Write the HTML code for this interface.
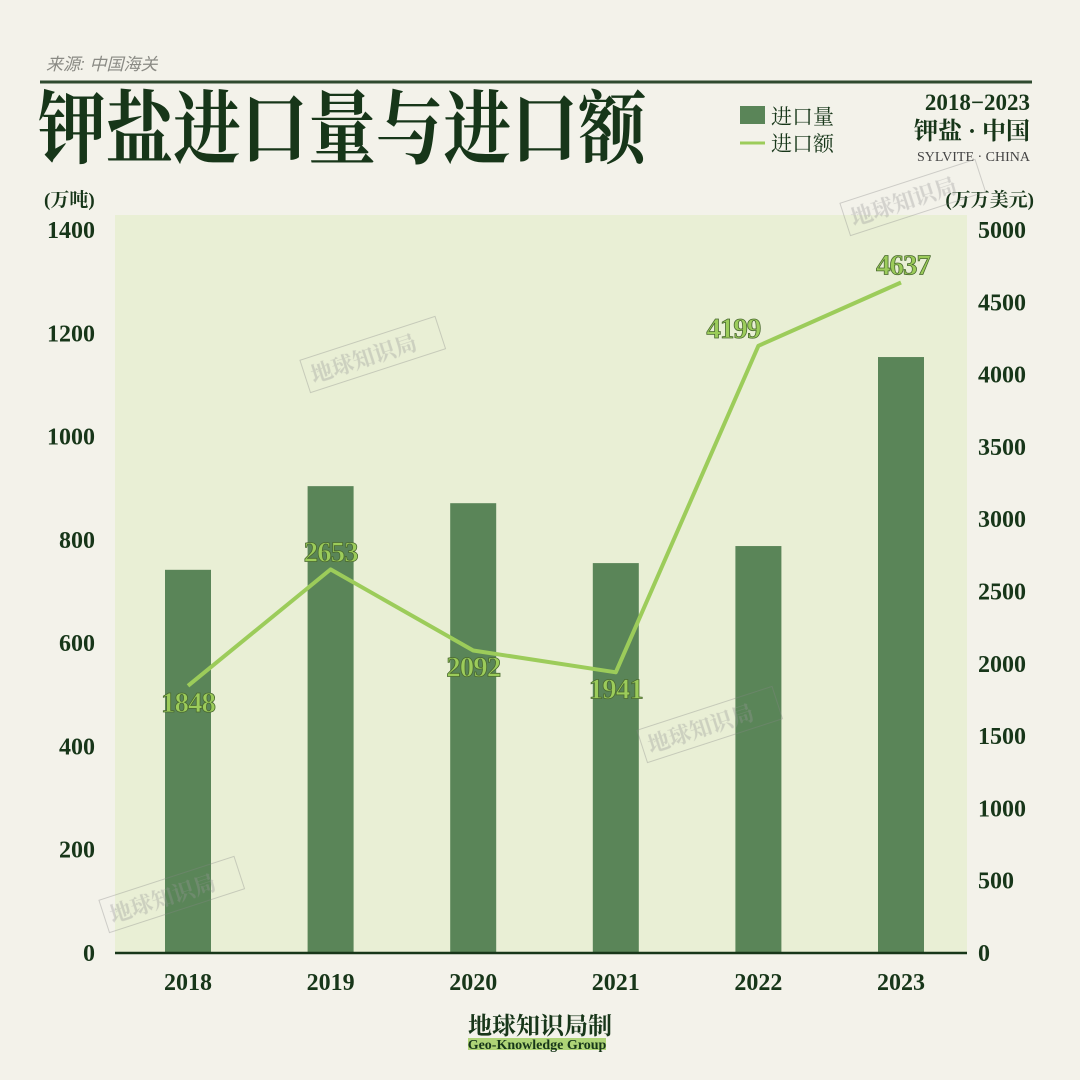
<!DOCTYPE html>
<html><head><meta charset="utf-8">
<style>
html,body{margin:0;padding:0;width:1080px;height:1080px;background:#f3f2ea;overflow:hidden}
svg{display:block}
.serif{font-family:"Liberation Serif","Noto Serif CJK SC",serif}
</style></head>
<body>
<svg id="chart" width="1080" height="1080" viewBox="0 0 1080 1080" xmlns="http://www.w3.org/2000/svg">
<rect x="0" y="0" width="1080" height="1080" fill="#f3f2ea"/>
<text x="46" y="70" font-family="Liberation Sans,'Noto Sans CJK SC',sans-serif" font-size="17" font-style="italic" fill="#8a8a84">来源:  中国海关</text>
<line x1="40" y1="82" x2="1032" y2="82" stroke="#2f4a2f" stroke-width="3"/>
<text x="38" y="157" class="serif" font-size="80" font-weight="bold" fill="#173619" textLength="608" lengthAdjust="spacingAndGlyphs">钾盐进口量与进口额</text>
<rect x="740" y="106" width="25" height="18" fill="#5a8558"/>
<text x="771" y="124" class="serif" font-size="21" fill="#173619">进口量</text>
<line x1="740" y1="143" x2="765" y2="143" stroke="#9ccc5a" stroke-width="3"/>
<text x="771" y="151" class="serif" font-size="21" fill="#173619">进口额</text>
<text x="1030" y="110" text-anchor="end" class="serif" font-size="23" font-weight="bold" fill="#173619">2018−2023</text>
<text x="1030" y="139" text-anchor="end" class="serif" font-size="24" font-weight="bold" fill="#173619">钾盐 · 中国</text>
<text x="1030" y="161" text-anchor="end" class="serif" font-size="14" fill="#444">SYLVITE · CHINA</text>
<text x="44" y="206" class="serif" font-size="19" font-weight="bold" fill="#173619">(万吨)</text>
<text x="1034" y="206" text-anchor="end" class="serif" font-size="19" font-weight="bold" fill="#173619">(万万美元)</text>
<rect x="115" y="215" width="852" height="738" fill="#e9efd5"/>
<g id="bars"></g>
<g id="axes"></g>
<g id="line"></g>
<g opacity="0.35" class="serif" font-size="22" font-weight="bold" fill="none" stroke="#888" stroke-width="1">
<g transform="translate(308,385) rotate(-18)"><rect x="0" y="-26" width="142" height="34"/><text x="6" y="0" fill="#999" stroke="none">地球知识局</text></g>
<g transform="translate(107,925) rotate(-18)"><rect x="0" y="-26" width="142" height="34"/><text x="6" y="0" fill="#999" stroke="none">地球知识局</text></g>
<g transform="translate(645,755) rotate(-18)"><rect x="0" y="-26" width="142" height="34"/><text x="6" y="0" fill="#999" stroke="none">地球知识局</text></g>
<g transform="translate(848,228) rotate(-18)"><rect x="0" y="-26" width="142" height="34"/><text x="6" y="0" fill="#999" stroke="none">地球知识局</text></g>
</g>
<text x="540" y="1034" text-anchor="middle" class="serif" font-size="24" font-weight="bold" fill="#173619">地球知识局制</text>
<rect x="468" y="1038" width="138" height="12" fill="#9ccc5a" opacity="0.8"/>
<text x="537" y="1049" text-anchor="middle" class="serif" font-size="14" font-weight="bold" fill="#173619">Geo-Knowledge Group</text>
</svg>
<script>
const years=["2018","2019","2020","2021","2022","2023"];
const volume=[742,904,871,755,788,1154];
const amount=[1848,2653,2092,1941,4199,4637];
const leftTicks=[0,200,400,600,800,1000,1200,1400];
const rightTicks=[0,500,1000,1500,2000,2500,3000,3500,4000,4500,5000];
const NS="http://www.w3.org/2000/svg";
const y0=953,yTop=230;
function yL(v){return y0-(v/1400)*(y0-yTop);}
function yR(v){return y0-(v/5000)*(y0-yTop);}
function xC(i){return 188+i*142.6;}
function mk(tag,attrs,parent,txt){const e=document.createElementNS(NS,tag);for(const k in attrs)e.setAttribute(k,attrs[k]);if(txt!==undefined)e.textContent=txt;parent.appendChild(e);return e;}
const bars=document.getElementById('bars'),axes=document.getElementById('axes'),line=document.getElementById('line');
volume.forEach((v,i)=>{
 const r=mk('rect',{x:xC(i)-23,y:yL(v),width:46,height:y0-yL(v),fill:'#5a8558'},bars);
 
 
 const t=mk('text',{x:xC(i),y:990,'text-anchor':'middle','class':'serif','font-size':24,'font-weight':'bold',fill:'#173619'},axes,years[i]);
 
 
});
const base=mk('line',{x1:115,y1:y0,x2:967,y2:y0,stroke:'#173619','stroke-width':2.5},axes);


leftTicks.forEach(v=>{
 const t=mk('text',{x:95,y:yL(v)+8,'text-anchor':'end','class':'serif','font-size':24,'font-weight':'bold',fill:'#173619'},axes,String(v));
 
 
});
rightTicks.forEach(v=>{
 const t=mk('text',{x:978,y:yR(v)+8,'class':'serif','font-size':24,'font-weight':'bold',fill:'#173619'},axes,String(v));
 
 
});
const pts=amount.map((v,i)=>xC(i)+','+yR(v)).join(' ');
const pl=mk('polyline',{points:pts,fill:'none',stroke:'#9ccc5a','stroke-width':4,'stroke-linejoin':'round'},line);


const lblOff=[26,-8,26,26,-8,-8];
amount.forEach((v,i)=>{
 const t=mk('text',{x:xC(i)+(i==4?-25:i==5?2:0),y:yR(v)+lblOff[i],'text-anchor':'middle','class':'serif','font-size':29,'font-weight':'bold',fill:'#9ccc5a',stroke:'#4a6a30','stroke-width':0.8,'letter-spacing':'-1'},line,String(v));
 
 
});
</script>
</body></html>
